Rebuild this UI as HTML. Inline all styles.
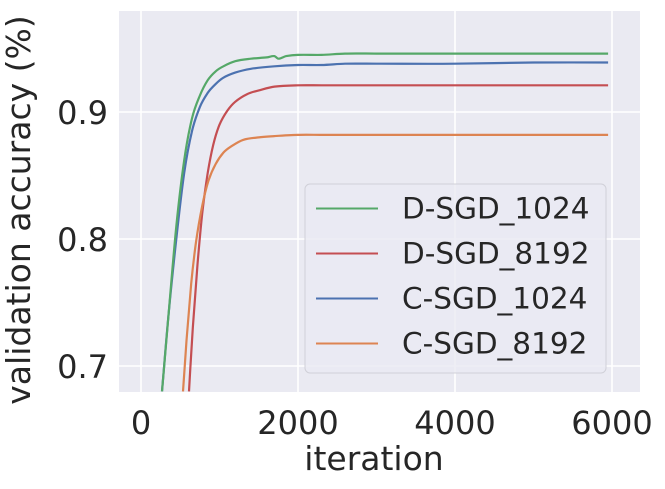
<!DOCTYPE html>
<html><head><meta charset="utf-8"><style>
html,body{margin:0;padding:0;background:#fff;}
svg{display:block;font-family:"DejaVu Sans","Liberation Sans",sans-serif;}
</style></head><body>
<svg id="chart" width="665" height="489" viewBox="0 0 665 489">
<rect x="119" y="11" width="521" height="381" fill="#eaeaf2"/>
<g id="grid"></g><g id="series"></g><g id="ticks"></g>
<text x="30" y="210" transform="rotate(-90 30 210)" text-anchor="middle" font-size="33" fill="#262626">validation accuracy (%)</text>
<text x="374" y="470" text-anchor="middle" font-size="33" fill="#262626">iteration</text>
<g id="legend"></g>
</svg>
<script>
const xTicks=[0,2000,4000,6000];
const yTicks=[0.7,0.8,0.9];
const seriesNames=["D-SGD_1024","D-SGD_8192","C-SGD_1024","C-SGD_8192"];
const seriesColors=["#55a868","#c44e52","#4c72b0","#dd8452"];
const greenX=[268,350,450,550,650,750,850,950,1050,1200,1400,1600,1700,1750,1850,2000,2300,2600,3000,4000,5000,5950];
const greenY=[0.68,0.74,0.81,0.862,0.895,0.913,0.925,0.932,0.936,0.94,0.942,0.943,0.944,0.942,0.944,0.945,0.945,0.946,0.946,0.946,0.946,0.946];
const redX=[611,660,720,780,850,920,1000,1100,1200,1350,1500,1700,2000,2300,2600,3000,4000,5000,5950];
const redY=[0.68,0.73,0.78,0.82,0.852,0.874,0.89,0.901,0.908,0.914,0.917,0.92,0.921,0.921,0.921,0.921,0.921,0.921,0.921];
const blueX=[268,350,450,550,650,750,850,950,1050,1200,1400,1700,2000,2300,2600,3000,4000,5000,5950];
const blueY=[0.68,0.74,0.80,0.852,0.885,0.904,0.915,0.922,0.927,0.931,0.934,0.936,0.937,0.937,0.938,0.938,0.938,0.939,0.939];
const orangeX=[535,580,640,700,780,860,950,1050,1150,1300,1500,1700,2000,2300,2600,3000,4000,5000,5950];
const orangeY=[0.68,0.72,0.765,0.797,0.826,0.846,0.859,0.868,0.873,0.878,0.88,0.881,0.882,0.882,0.882,0.882,0.882,0.882,0.882];
const NS="http://www.w3.org/2000/svg";
const L=119,R=640,T=11,B=392;
const sx=v=>141+v*(157/2000);
const sy=v=>112-(v-0.9)*1270;
function mk(tag,attrs,parent){const e=document.createElementNS(NS,tag);for(const k in attrs)e.setAttribute(k,attrs[k]);parent.appendChild(e);return e;}
const grid=document.getElementById('grid'),ticks=document.getElementById('ticks');
xTicks.forEach(v=>{
  const l=mk('line',{x1:sx(v),x2:sx(v),y1:T,y2:B,stroke:'#fff','stroke-width':1.6},grid);
  
  
  const t=mk('text',{x:sx(v),y:434,'text-anchor':'middle','font-size':32,fill:'#262626'},ticks);
  t.textContent=v;
  
  
});
yTicks.forEach(v=>{
  const l=mk('line',{x1:L,x2:R,y1:sy(v),y2:sy(v),stroke:'#fff','stroke-width':1.6},grid);
  
  
  const t=mk('text',{x:108,y:sy(v)+12,'text-anchor':'end','font-size':32,fill:'#262626'},ticks);
  t.textContent=v.toFixed(1);
  
  
});
const data=[[greenX,greenY],[redX,redY],[blueX,blueY],[orangeX,orangeY]];
const sg=document.getElementById('series');
const cp=mk('clipPath',{id:'clip'},sg);
mk('rect',{x:L,y:T,width:R-L,height:B-T},cp);
function smoothPath(px,py){
  let d='M'+px[0].toFixed(1)+','+py[0].toFixed(1);
  for(let j=0;j<px.length-1;j++){
    const i0=Math.max(j-1,0),i3=Math.min(j+2,px.length-1);
    const h=px[j+1]-px[j];
    const m1=(py[j+1]-py[i0])/(px[j+1]-px[i0]);
    const m2=(py[i3]-py[j])/(px[i3]-px[j]);
    const c1x=px[j]+h/3,c1y=py[j]+m1*h/3;
    const c2x=px[j+1]-h/3,c2y=py[j+1]-m2*h/3;
    d+=' C'+c1x.toFixed(1)+','+c1y.toFixed(1)+' '+c2x.toFixed(1)+','+c2y.toFixed(1)+' '+px[j+1].toFixed(1)+','+py[j+1].toFixed(1);
  }
  return d;
}
[2,0,1,3].forEach(i=>{
  const [xs,ys]=data[i];
  const p=mk('path',{d:smoothPath(xs.map(sx),ys.map(sy)),fill:'none',stroke:seriesColors[i],'stroke-width':2.2,'stroke-linejoin':'round','clip-path':'url(#clip)'},sg);
  
  
});
const lg=document.getElementById('legend');
const box=mk('rect',{x:305,y:184,width:301,height:189,rx:5,fill:'#eaeaf2','fill-opacity':0.8,stroke:'#d0d0d8','stroke-width':1},lg);


seriesNames.forEach((n,i)=>{
  const y=208.5+i*45;
  const ln=mk('line',{x1:316,x2:378,y1:y,y2:y,stroke:seriesColors[i],'stroke-width':2},lg);
  
  
  const t=mk('text',{x:402,y:y+10,'font-size':29.5,fill:'#262626'},lg);
  t.textContent=n;
  
  
});
</script>
</body></html>
